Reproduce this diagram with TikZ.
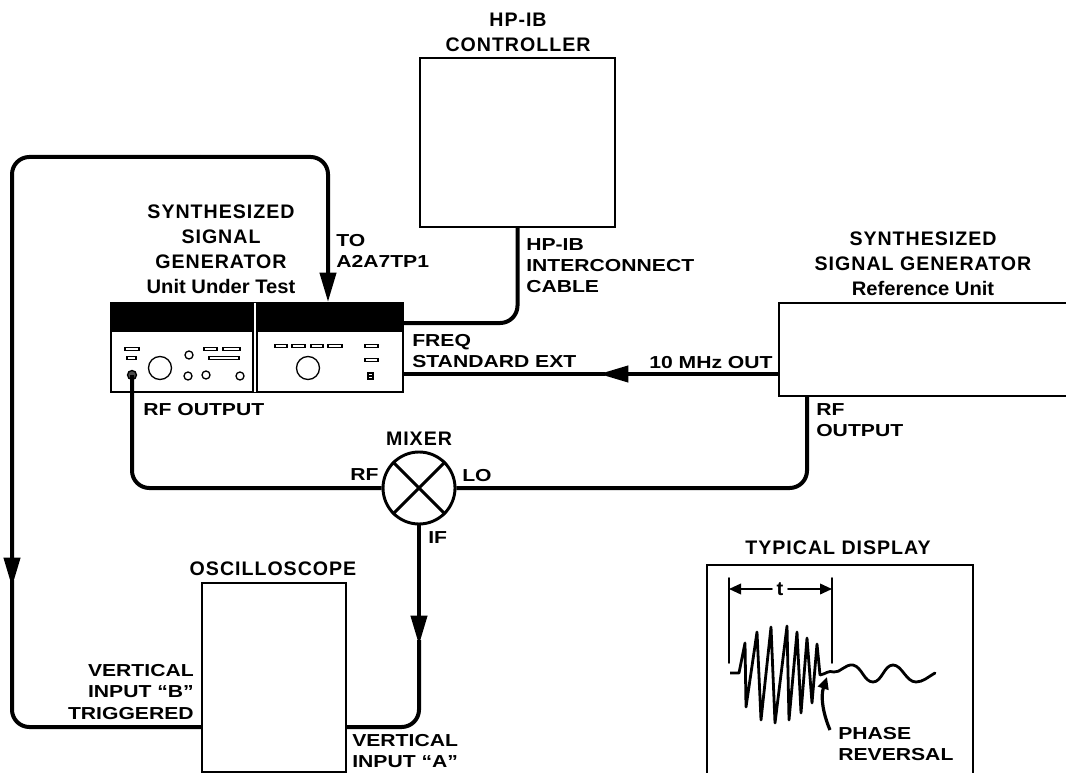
\documentclass[tikz,border=0pt]{standalone}
\usepackage{fontspec}
\usetikzlibrary{arrows.meta}
\setmainfont{Liberation Sans}
\newfontfamily\titlefont[LetterSpace=5]{Liberation Sans Bold}
\newfontfamily\namefont[FakeStretch=1.03]{Liberation Sans Bold}
\newfontfamily\labelfont[FakeStretch=1.22]{Liberation Sans Bold}
\tikzset{
  wire/.style={line width=3pt, rounded corners=13pt},
  thin wire/.style={line width=1.2pt, line cap=round, line join=round},
  bigtip/.style={-{Triangle[length=22pt,width=12pt]}},
  smalltip/.style={-{Triangle[length=9pt,width=8pt]}},
  unit/.style={draw, line width=1.6pt, minimum width=#1, inner sep=0pt},
  unittitle/.style={font=\titlefont\fontsize{14.7}{18.7}\selectfont, align=center, inner sep=0pt},
  unitname/.style={font=\namefont\fontsize{14.7}{18.7}\selectfont, align=center, inner sep=0pt},
  portlabel/.style={font=\labelfont\fontsize{13}{15.8}\selectfont, align=left, anchor=west, inner sep=0pt},
  panelkey/.style={draw, line width=0.9pt, fill=white},
  panelknob/.style={draw, line width=1pt},
}
\begin{document}
\begin{tikzpicture}[x=0.75pt, y=-0.75pt, >=stealth]
  \useasboundingbox (0,0) rectangle (1066,773);
  % the instruments
  \node[unit=146.25pt, minimum height=126.75pt] (controller) at (517.5,142.5) {};
  \node[unit=219pt, minimum height=66.75pt] (test unit) at (257,347.5) {};
  \node[unit=222pt, minimum height=69.75pt] (reference) at (927,349.5) {};
  \node[unit=108pt, minimum height=141.75pt] (scope) at (274,677.5) {};
  \node[unit=199.5pt, minimum height=161.25pt] (display) at (840,672.5) {};
  \node[draw, circle, line width=2.2pt, minimum size=54pt, inner sep=0pt] (mixer) at (419,488) {};
  \draw[line width=2.2pt] (mixer.45) -- (mixer.225) (mixer.135) -- (mixer.315);
  % front panel of the unit under test
  \fill (111,303) rectangle (403,332);
  \draw[line width=1.6pt, white] (255,303) -- (255,392);
  \draw[line width=0.9pt] (253,303) -- (253,392) (257,303) -- (257,392);
  \foreach \xa/\xb/\yy in {125/139/349, 127/136/358, 204/217/349, 223/240/349, 209/239/358,
                           275/287/346, 292/305/346, 311/323/346, 328/342/346, 365/378/346, 365/378/360}
    \draw[panelkey] (\xa,\yy-1.8) rectangle (\xb,\yy+1.8);
  \foreach \xx in {160,308}
    \draw[panelknob] (\xx,368) circle (11.5);
  \foreach \xx/\yy in {189/355, 188/376, 206/375, 240/376}
    \draw[panelknob] (\xx,\yy) circle (4);
  \draw[panelknob] (368,373) rectangle (373,379) (368,376) -- (373,376);
  \coordinate (rf jack) at (132,375);
  \filldraw[line width=1pt, fill=black!70] (rf jack) circle (4.5);
  % connectors
  \coordinate (tp tip) at (328,302);
  \coordinate (top run) at (200,157);
  \coordinate (left tip) at (12,587);
  \coordinate (hp tap) at (403,323);
  \coordinate (freq tap) at (403,374);
  \coordinate (ref out) at (779,374);
  \coordinate (ref rf) at (807,396);
  \coordinate (scope b) at (202,727);
  \coordinate (scope a) at (346,727);
  \coordinate (if tip) at (419,645);
  \coordinate (freq tip) at (599,374);
  \draw[wire] (controller.south) -- (517.5,323) -- (hp tap);
  \draw[wire, bigtip] (ref out) -- (freq tip);
  \draw[wire] (605,374) -- (freq tap);
  \draw[wire] (rf jack) -- (132,488) -- (mixer.west);
  \draw[wire] (mixer.east) -- (807,488) -- (ref rf);
  \draw[wire, bigtip] (mixer.south) -- (if tip);
  \draw[wire] (419,640) -- (419,727) -- (scope a);
  \draw[wire] (scope b) -- (12,727) -- (12,580);
  \draw[wire, bigtip] (top run) -- (12,157) -- (left tip);
  \draw[wire, bigtip] (top run) -- (328,157) -- (tp tip);
  % typical display
  \draw[thin wire] (729,578) -- (729,663) (832,578) -- (832,663);
  \draw[thin wire, {Triangle[length=9pt,width=8pt]}-] (729,589) -- (772,589);
  \draw[thin wire, smalltip] (788,589) -- (832,589);
  \node[unitname] (t) at (780,589) {t};
  \draw[line width=2.1pt, line join=round] (730,673) -- (739,673) -- (745,643) -- (746,707) -- (757,632)
    -- (761,720) -- (771,627) -- (775,723) -- (787,626) -- (789,720) -- (797,632) -- (801,713)
    -- (807,638) -- (812,703) -- (817,644) -- (820,675);
  \draw[line width=2.1pt, line cap=round] (820,675) .. controls (826,674) and (828,670) .. (834,672)
    .. controls (840,673) and (845,664) .. (853,665) .. controls (862,667) and (864,682) .. (873,682)
    .. controls (882,682) and (884,665) .. (893,665) .. controls (902,665) and (906,682) .. (916,682)
    .. controls (923,682) and (928,677) .. (935,673);
  \draw[line width=2.4pt, smalltip] (830,730) .. controls (824,716) and (820,698) .. (827,677);
  % labels
  \node[unittitle] (controller title) at (518,32) {HP-IB\\CONTROLLER};
  \node[unittitle] (test title) at (221,237) {SYNTHESIZED\\SIGNAL\\GENERATOR};
  \node[unitname] (test name) at (221,286) {Unit Under Test};
  \node[unittitle] (ref title) at (923,251) {SYNTHESIZED\\SIGNAL GENERATOR};
  \node[unitname] (ref name) at (923,288) {Reference Unit};
  \node[unittitle] (mixer title) at (419,439) {MIXER};
  \node[unittitle] (scope title) at (273,569) {OSCILLOSCOPE};
  \node[unittitle] (display title) at (838,548) {TYPICAL DISPLAY};
  \node[portlabel] (to tp) at (336,251) {TO\\A2A7TP1};
  \node[portlabel] (cable) at (526,266) {HP-IB\\INTERCONNECT\\CABLE};
  \node[portlabel] (freq std) at (412,351) {FREQ\\STANDARD EXT};
  \node[portlabel] (ten mhz) at (649,363) {10 MHz OUT};
  \node[portlabel] (rf out) at (143,410) {RF OUTPUT};
  \node[portlabel] (ref rf out) at (816,420) {RF\\OUTPUT};
  \node[portlabel] (rf port) at (350,475) {RF};
  \node[portlabel] (lo port) at (462,476) {LO};
  \node[portlabel] (if port) at (428,538) {IF};
  \node[portlabel, anchor=east, align=right] (input b) at (194,692) {VERTICAL\\INPUT “B”\\TRIGGERED};
  \node[portlabel] (input a) at (352,751) {VERTICAL\\INPUT “A”};
  \node[portlabel] (phase) at (838,744) {PHASE\\REVERSAL};
\end{tikzpicture}
\end{document}
